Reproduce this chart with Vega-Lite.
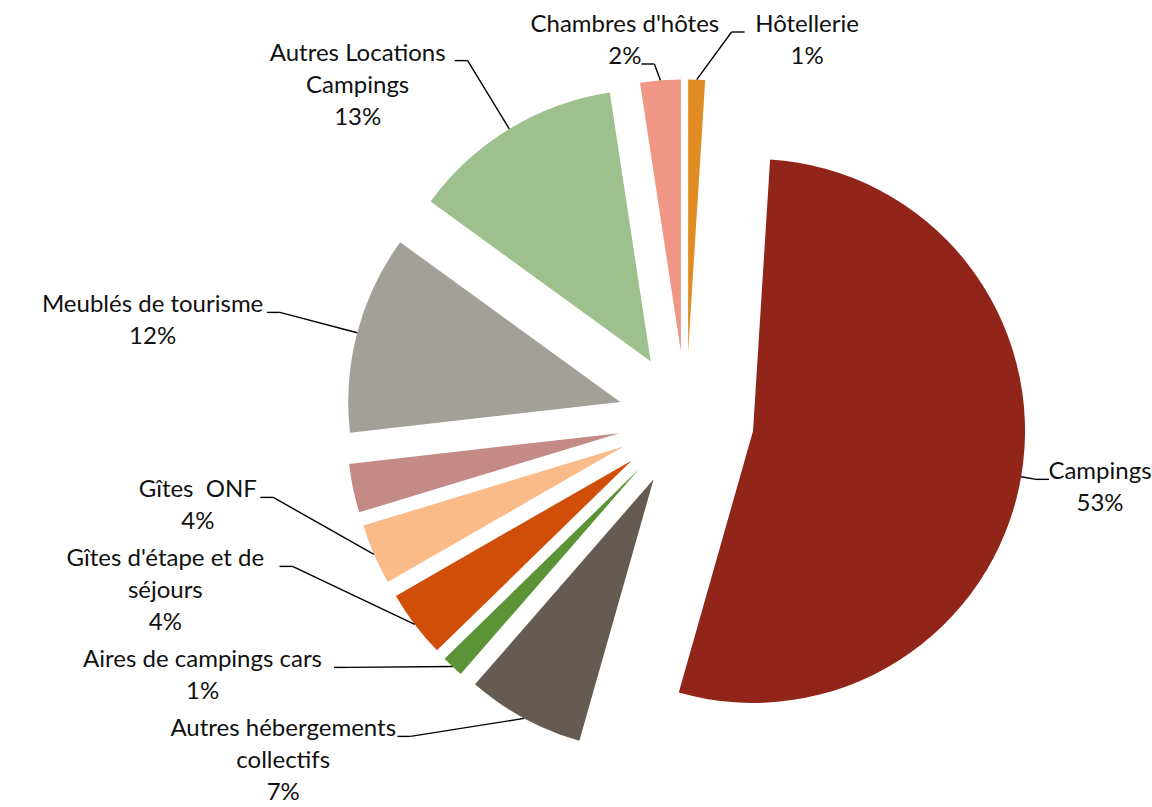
{
  "$schema": "https://vega.github.io/schema/vega-lite/v6.json",
  "width": 1152,
  "height": 807,
  "autosize": {"type": "none"},
  "padding": 0,
  "background": "white",
  "config": {"view": {"stroke": null}},
  "data": {
    "values": [
      {"cat": "Hôtellerie", "value": 1.0},
      {"cat": "Campings", "value": 53.4},
      {"cat": "Autres hébergements\ncollectifs", "value": 7.0},
      {"cat": "Aires de campings cars", "value": 1.3},
      {"cat": "Gîtes d'étape et de\nséjours", "value": 4.0},
      {"cat": "Gîtes\u00a0 ONF", "value": 3.6},
      {"cat": "", "value": 2.9},
      {"cat": "Meublés de tourisme", "value": 11.8},
      {"cat": "Autres Locations\nCampings", "value": 12.6},
      {"cat": "Chambres d'hôtes", "value": 2.4}
    ]
  },
  "transform": [
    {"window": [{"op": "sum", "field": "value", "as": "cum"}], "frame": [null, 0], "ignorePeers": true},
    {"calculate": "datum.cum * 3.6", "as": "a1"},
    {"calculate": "datum.a1 - datum.value * 3.6", "as": "a0"},
    {"calculate": "datum.a1 - datum.value * 1.8", "as": "m"},
    {"calculate": "datum.m * PI / 180", "as": "r"},
    {"calculate": "68 * sin(datum.r)", "as": "cx"},
    {"calculate": "-68 * cos(datum.r)", "as": "cy"}
  ],
  "layer": [
    {
      "mark": {"type": "arc", "radius": 272, "stroke": null},
      "encoding": {
        "x": {"field": "cx", "type": "quantitative", "scale": {"domain": [-686, 466], "nice": false, "zero": false}, "axis": null},
        "y": {"field": "cy", "type": "quantitative", "scale": {"domain": [-419.4, 387.6], "nice": false, "zero": false, "reverse": true}, "axis": null},
        "theta": {"field": "a0", "type": "quantitative", "stack": null, "scale": {"domain": [0, 360], "range": [0, 6.283185307179586]}},
        "theta2": {"field": "a1"},
        "color": {
          "field": "cat",
          "type": "nominal",
          "legend": null,
          "scale": {
            "domain": ["Hôtellerie", "Campings", "Autres hébergements\ncollectifs", "Aires de campings cars", "Gîtes d'étape et de\nséjours", "Gîtes\u00a0 ONF", "", "Meublés de tourisme", "Autres Locations\nCampings", "Chambres d'hôtes"],
            "range": ["#E08C22", "#92251A", "#655B51", "#5A9436", "#D04E07", "#FBBB88", "#C38A86", "#A39F99", "#9DC08D", "#F09684"]
          }
        }
      }
    },
    {
      "transform": [
        {"filter": "datum.cat !== ''"},
        {"calculate": "datum.cat + '\\n' + round(datum.value) + '%'", "as": "label"},
        {"calculate": "length(split(datum.label, '\\n'))", "as": "n"},
        {"calculate": "datum.m < 180 ? 1 : -1", "as": "side"},
        {"calculate": "420 * sin(datum.r)", "as": "nx"},
        {"calculate": "-420 * cos(datum.r)", "as": "ny"},
        {"calculate": "32 * (datum.n - 1) + 37", "as": "s"},
        {"window": [{"op": "sum", "field": "s", "as": "S"}], "groupby": ["side"], "sort": [{"field": "m", "order": "ascending"}], "frame": [null, 0], "ignorePeers": true},
        {"calculate": "datum.ny + datum.S", "as": "z"},
        {"window": [{"op": "min", "field": "z", "as": "zmin"}], "groupby": ["side"], "sort": [{"field": "m", "order": "ascending"}], "frame": [null, 0], "ignorePeers": true},
        {"calculate": "datum.side < 0 ? min(381 + 37, datum.zmin) - datum.S : datum.ny", "as": "b1"},
        {"calculate": "datum.b1 < -387.4", "as": "topPushed"},
        {"calculate": "max(datum.b1, -387.4)", "as": "b1c"},
        {"calculate": "datum.side < 0 && datum.topPushed ? datum.n - 1 : 0", "as": "k"},
        {"calculate": "split(datum.label, '\\n')[datum.k]", "as": "attach"},
        {"calculate": "length(datum.attach) * 11.5", "as": "wa"},
        {"calculate": "datum.side > 0 ? min(datum.nx + max(0, datum.b1c - datum.ny), 442 - datum.wa) : max(min(datum.nx, -sqrt(max(0, 420 * 420 - datum.b1 * datum.b1))), -664 + datum.wa)", "as": "ex"},
        {"calculate": "datum.side > 0 ? (datum.b1c > datum.ny ? datum.b1c : -datum.ex * cos(datum.r) / sin(datum.r)) : datum.b1c + 32 * datum.k", "as": "ey"},
        {"calculate": "datum.ex + datum.side * 13", "as": "hx"},
        {"calculate": "datum.hx + datum.side * (5 + datum.wa / 2)", "as": "tx"},
        {"calculate": "datum.ey - 32 * datum.k", "as": "ty"},
        {"calculate": "340 * sin(datum.r)", "as": "px"},
        {"calculate": "-340 * cos(datum.r)", "as": "py"}
      ],
      "layer": [
        {
          "mark": {"type": "rule", "color": "#000000", "strokeWidth": 1.4},
          "encoding": {
            "x": {"field": "px", "type": "quantitative", "scale": {"domain": [-686, 466], "nice": false, "zero": false}, "axis": null},
            "y": {"field": "py", "type": "quantitative", "scale": {"domain": [-419.4, 387.6], "nice": false, "zero": false, "reverse": true}, "axis": null},
            "x2": {"field": "ex"},
            "y2": {"field": "ey"}
          }
        },
        {
          "mark": {"type": "rule", "color": "#000000", "strokeWidth": 1.4},
          "encoding": {
            "x": {"field": "ex", "type": "quantitative", "scale": {"domain": [-686, 466], "nice": false, "zero": false}, "axis": null},
            "y": {"field": "ey", "type": "quantitative", "scale": {"domain": [-419.4, 387.6], "nice": false, "zero": false, "reverse": true}, "axis": null},
            "x2": {"field": "hx"},
            "y2": {"field": "ey"}
          }
        },
        {
          "mark": {"type": "text", "align": "center", "baseline": "alphabetic", "lineBreak": "\n", "lineHeight": 32, "font": "Lato", "fontSize": 24, "color": "#111111"},
          "encoding": {
            "x": {"field": "tx", "type": "quantitative", "scale": {"domain": [-686, 466], "nice": false, "zero": false}, "axis": null},
            "y": {"field": "ty", "type": "quantitative", "scale": {"domain": [-419.4, 387.6], "nice": false, "zero": false, "reverse": true}, "axis": null},
            "text": {"field": "label"}
          }
        }
      ]
    }
  ]
}
